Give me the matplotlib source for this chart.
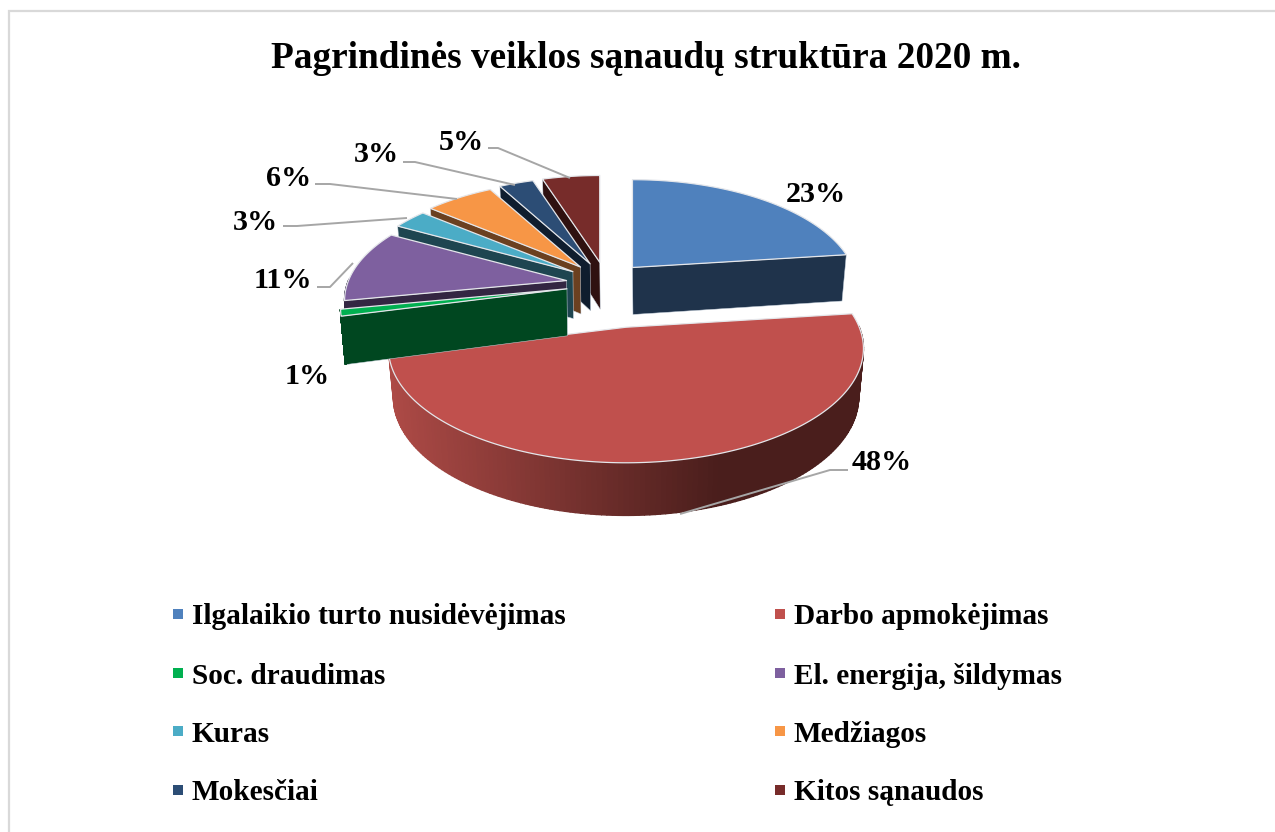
import numpy as np
import matplotlib
matplotlib.use('Agg')
import matplotlib.pyplot as plt
from matplotlib.colors import to_rgb

plt.rcParams['font.family'] = ['Liberation Serif', 'DejaVu Serif']

title = 'Pagrindinės veiklos sąnaudų struktūra 2020 m.'
categories = ['Ilgalaikio turto nusidėvėjimas', 'Darbo apmokėjimas', 'Soc. draudimas',
              'El. energija, šildymas', 'Kuras', 'Medžiagos', 'Mokesčiai', 'Kitos sąnaudos']
shares = [23, 48, 1, 11, 3, 6, 3, 5]

top_colors = ['#4F81BD', '#C0504D', '#00B050', '#7E609F', '#4BACC6', '#F79646', '#2C4D75', '#772C2A']
wall_colors = ['#1F334B', '#4A1E1C', '#004720', '#332642', '#1E4550', '#6B4020', '#0F1D2E', '#2F1110']

# explosion of each slice in pixels, the big red one is pulled out further
explode = [40, 80, 40, 40, 40, 40, 40, 40]
scale = [1.012, 1.07, 1.02, 1, 1, 1, 1, 1]
nudge_x = [0, 5, 0, 0, 0, 0, 0, 0]

CENTER = (606, 284)
SQUASH = 0.55
F, C, K = 218, 103, 0.187
DEPTH = 47


def project(angle, radius=1.0):
    """Ground point at clockwise angle from top -> pixel offset from the apex"""
    u = radius * np.sin(angle)
    v = radius * np.cos(angle)
    w = 1 + K * v
    return F * u / w, -C * v / w


def depth_at(angle):
    return DEPTH * (1 - 0.12 * np.cos(angle))


def wall_point(ax0, ay0, angle, s):
    dx, dy = project(angle)
    return ax0 + 0.98 * s * dx, ay0 + s * dy + depth_at(angle)


def draw_slice(ax, i, start, end):
    mid = (start + end) / 2
    ax0 = CENTER[0] + explode[i] * np.sin(mid) + nudge_x[i]
    ay0 = CENTER[1] - explode[i] * SQUASH * np.cos(mid)
    s = scale[i]
    angles = np.linspace(start, end, 160)
    dx, dy = project(angles)
    arc_x, arc_y = ax0 + s * dx, ay0 + s * dy

    # radial walls, only the ones turned towards the viewer
    for a, normal in ((start, start - np.pi / 2), (end, end + np.pi / 2)):
        if np.cos(normal) >= -0.01:
            continue
        ox, oy = project(a)
        bx, by = wall_point(ax0, ay0, a, s)
        ax.fill([ax0, ax0 + s * ox, bx, ax0 + 0.5], [ay0, ay0 + s * oy, by, ay0 + DEPTH],
                facecolor=wall_colors[i], edgecolor='#C9D3DE', lw=0.35)

    # outer wall, front part only
    front = np.cos(angles) < 0.02
    lo, hi = np.array(to_rgb('#AD4A46')), np.array(to_rgb(wall_colors[i]))
    idx = np.where(front)[0]
    for j0, j1 in zip(idx[:-1], idx[1:]):
        if j1 != j0 + 1:
            continue
        a0, a1 = angles[j0], angles[j1]
        x0, y0 = wall_point(ax0, ay0, a0, s)
        x1, y1 = wall_point(ax0, ay0, a1, s)
        if i == 1:
            # the gradient runs from the dark right side to the lighter left side
            t = np.clip((arc_x[j0] - 390) / 330, 0, 1)
            c = lo * (1 - t) + hi * t
        else:
            c = wall_colors[i]
        ax.fill([arc_x[j0], arc_x[j1], x1, x0], [arc_y[j0], arc_y[j1], y1, y0],
                color=c, lw=1.0)

    # top face
    ax.fill(np.r_[ax0, arc_x], np.r_[ay0, arc_y], facecolor=top_colors[i],
            edgecolor='#E4E6EA', lw=0.9, joinstyle='round')


fig = plt.figure(figsize=(12.75, 8.32), dpi=100)
ax = fig.add_axes([0, 0, 1, 1])
ax.set_xlim(0, 1275)
ax.set_ylim(832, 0)
ax.axis('off')

# chart frame, only top and left are inside the crop
ax.plot([8.5, 8.5, 1275], [832, 10.5, 10.5], color='#D9D9D9', lw=1.6, solid_joinstyle='miter')

edges = np.cumsum([0] + shares) / sum(shares) * 2 * np.pi
for i in [0, 7, 6, 5, 4, 3, 1, 2]:
    draw_slice(ax, i, edges[i], edges[i + 1])

# leader lines
leaders = {
    1: ([680, 830, 848], [514, 470, 470]),
    3: ([317, 330, 353], [287, 287, 263]),
    4: ([283, 297, 407], [226, 226, 218]),
    5: ([315, 330, 457], [184, 184, 199]),
    6: ([403, 415, 515], [162, 162, 185]),
    7: ([488, 498, 570], [148, 148, 178]),
}
for xs, ys in leaders.values():
    ax.plot(xs, ys, color='#A6A6A6', lw=1.4, solid_capstyle='butt')

label_x = [816, 882, 307, 283, 255, 289, 376, 461]
label_y = [194, 462, 377, 280, 222, 178, 155, 142]
for share, x, y in zip(shares, label_x, label_y):
    ax.text(x, y, f'{share}%', fontsize=21.7, fontweight='bold', ha='center', va='center')

ax.text(646, 58, title, fontsize=26.8, fontweight='bold', ha='center', va='center')

# legend, two columns
legend_x = [173, 775]
legend_y = [615, 674, 732, 791]
for i, name in enumerate(categories):
    x = legend_x[i % 2]
    y = legend_y[i // 2]
    ax.scatter(x + 5, y - 1, marker='s', s=54, color=top_colors[i], lw=0)
    ax.text(x + 19, y + 2, name, fontsize=21.1, fontweight='bold', ha='left', va='center')

fig.savefig('out.png', dpi=100)
